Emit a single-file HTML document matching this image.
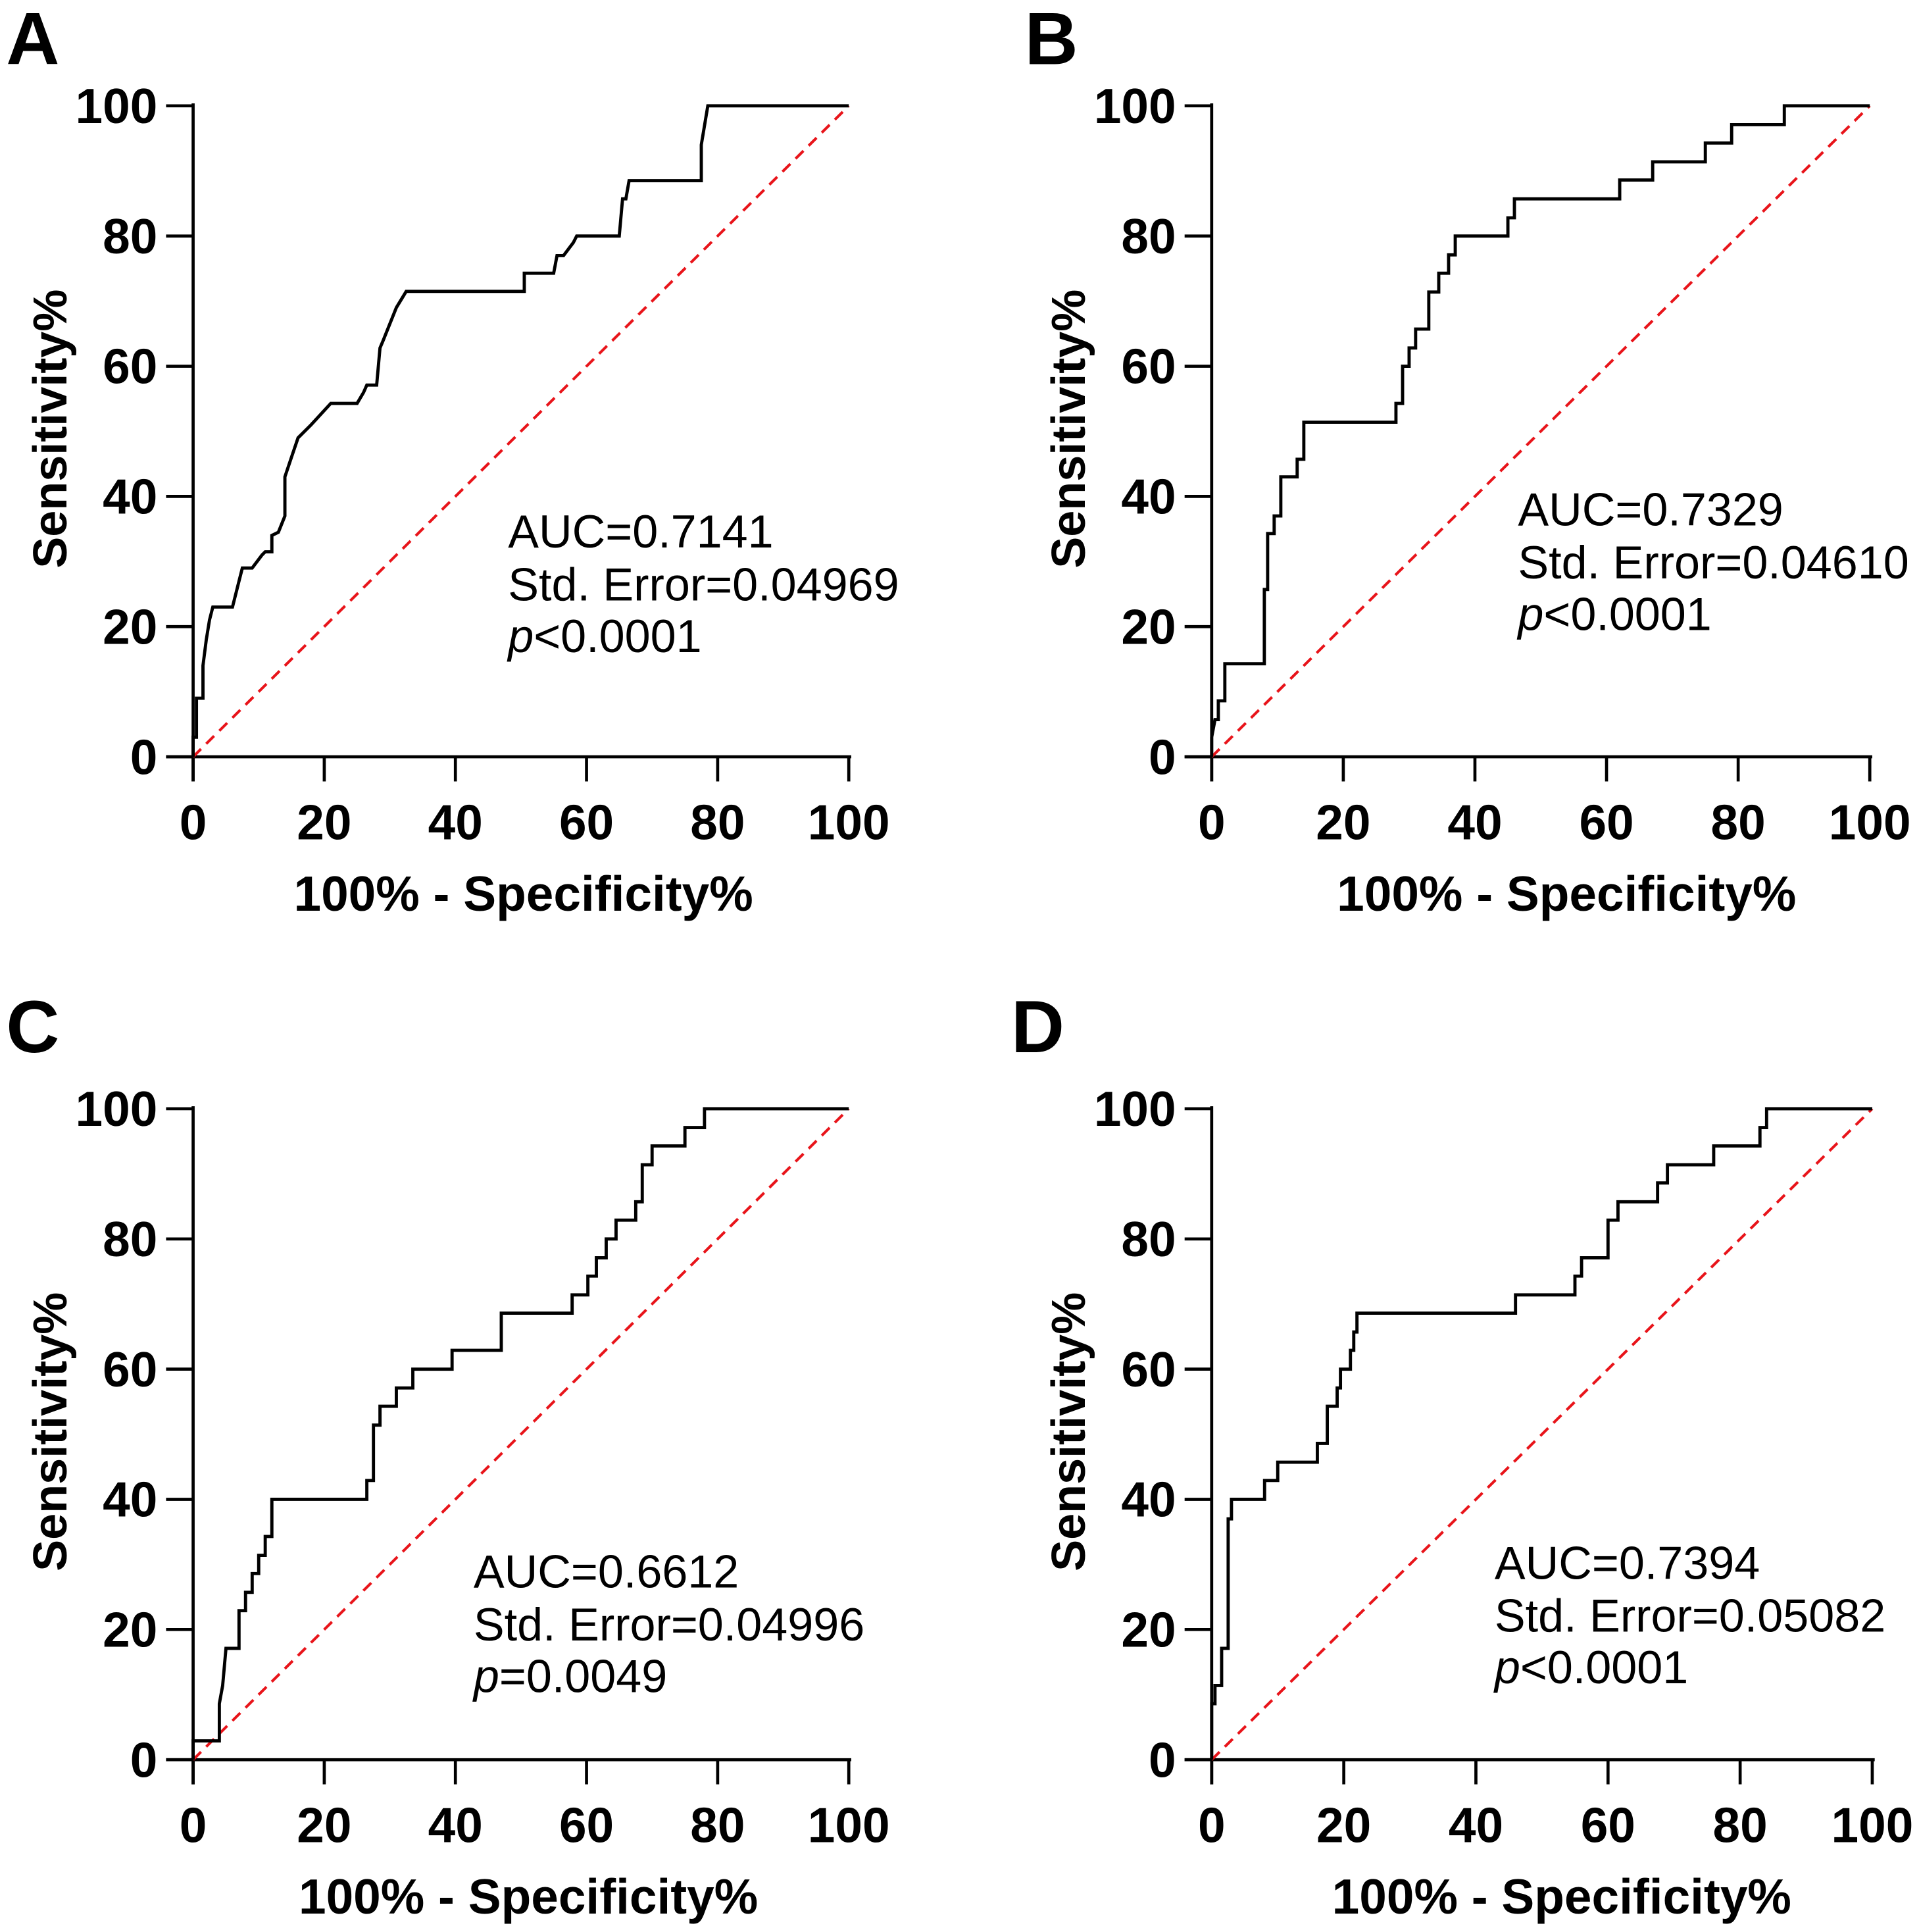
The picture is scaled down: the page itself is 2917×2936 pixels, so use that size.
<!DOCTYPE html>
<html><head><meta charset="utf-8"><style>
html,body{margin:0;padding:0;background:#fff;}
svg{display:block;}
text{font-family:"Liberation Sans",Arial,sans-serif;fill:#000;}
.tick{font-size:40px;font-weight:bold;}
.title{font-size:40px;font-weight:bold;}
.ytitle{font-size:38.5px;font-weight:bold;}
.ann{font-size:37.5px;}
.letter{font-size:60px;font-weight:bold;}
</style></head><body>
<svg id="fig" width="2917" height="2936" viewBox="0 0 1560 1570" preserveAspectRatio="none" xmlns="http://www.w3.org/2000/svg"></svg>
<script>
const tickValues = [0, 20, 40, 60, 80, 100];
const aFpr = [0,0,0.5,0.5,1.5,1.5,2,2.5,3,6,7,7.5,9,10.5,11,12,12,13,14,14,15,16,18,21,25,26,26.5,28,28.5,29,31,32.5,50.5,50.5,55,55.5,56.5,58,58.5,65,65.5,66,66.5,77.5,77.5,78.5,100];
const aTpr = [0,3,3,9,9,14,18,21,23,23,27,29,29,31,31.5,31.5,34,34.5,37,43,46,49,51,54.3,54.3,56,57.1,57.1,62.8,64,69,71.5,71.5,74.3,74.3,77,77,79,80,80,85.7,85.7,88.5,88.5,94,100,100];
const bFpr = [0,0,0.5,1,1,2,2,8,8,8.5,8.5,9.5,9.5,10.5,10.5,13,13,14,14,28,28,29,29,30,30,31,31,33,33,34.5,34.5,36,36,37,37,45,45,46,46,62,62,67,67,75,75,79,79,87,87,100];
const bTpr = [0,3,5.7,5.7,8.6,8.6,14.3,14.3,25.7,25.7,34.3,34.3,37,37,43,43,45.7,45.7,51.4,51.4,54.3,54.3,60,60,62.8,62.8,65.7,65.7,71.4,71.4,74.3,74.3,77.1,77.1,80,80,82.8,82.8,85.7,85.7,88.6,88.6,91.4,91.4,94.3,94.3,97.1,97.1,100,100];
const cFpr = [0,0,4,4,4.5,5,7,7,8,8,9,9,10,10,11,11,12,12,26.5,26.5,27.5,27.5,28.5,28.5,31,31,33.5,33.5,39.5,39.5,47,47,57.8,57.8,60.2,60.2,61.5,61.5,63,63,64.5,64.5,67.5,67.5,68.5,68.5,70,70,75,75,78,78,100];
const cTpr = [0,2.9,2.9,8.6,11.4,17.1,17.1,22.9,22.9,25.7,25.7,28.6,28.6,31.4,31.4,34.3,34.3,40,40,42.9,42.9,51.4,51.4,54.3,54.3,57.1,57.1,60,60,62.9,62.9,68.6,68.6,71.4,71.4,74.3,74.3,77.1,77.1,80,80,82.9,82.9,85.7,85.7,91.4,91.4,94.3,94.3,97.1,97.1,100,100];
const dFpr = [0,0,0.5,0.5,1.5,1.5,2.5,2.5,3,3,8,8,10,10,16,16,17.5,17.5,19,19,19.5,19.5,21,21,21.5,21.5,22,22,46,46,55,55,56,56,60,60,61.5,61.5,67.5,67.5,69,69,76,76,83,83,84,84,100];
const dTpr = [0,8.6,8.6,11.4,11.4,17.1,17.1,37,37,40,40,42.9,42.9,45.7,45.7,48.6,48.6,54.3,54.3,57.1,57.1,60,60,62.9,62.9,65.7,65.7,68.6,68.6,71.4,71.4,74.3,74.3,77.1,77.1,82.9,82.9,85.7,85.7,88.6,88.6,91.4,91.4,94.3,94.3,97.1,97.1,100,100];
const annA = ["AUC=0.7141", "Std. Error=0.04969", "<0.0001"];
const annB = ["AUC=0.7329", "Std. Error=0.04610", "<0.0001"];
const annC = ["AUC=0.6612", "Std. Error=0.04996", "=0.0049"];
const annD = ["AUC=0.7394", "Std. Error=0.05082", "<0.0001"];

const NS = "http://www.w3.org/2000/svg";
const svg = document.getElementById('fig');
function mk(tag, attrs, parent, txt){
  const e = document.createElementNS(NS, tag);
  for (const k in attrs) e.setAttribute(k, attrs[k]);
  if (txt !== undefined) e.textContent = txt;
  parent.appendChild(e);
  return e;
}
const panels = [
  {id:'a', L:'A', lx:5, ly:52, x0:157, x1:690, y0:615, y1:86, fx:aFpr, fy:aTpr, ann:annA, ax:413, ay:445, tdx:2},
  {id:'b', L:'B', lx:833, ly:52, x0:985, x1:1520, y0:615, y1:86, fx:bFpr, fy:bTpr, ann:annB, ax:1234, ay:427, tdx:21},
  {id:'c', L:'C', lx:5, ly:855, x0:157, x1:690, y0:1430, y1:901, fx:cFpr, fy:cTpr, ann:annC, ax:385, ay:1290, tdx:6},
  {id:'d', L:'D', lx:822, ly:855, x0:985, x1:1522, y0:1430, y1:901, fx:dFpr, fy:dTpr, ann:annD, ax:1215, ay:1283, tdx:16}
];
panels.forEach(p => {
  const g = mk('g', {}, svg);
  
  
  const sx = v => p.x0 + (p.x1 - p.x0) * v / 100;
  const sy = v => p.y0 + (p.y1 - p.y0) * v / 100;
  const lt = mk('text', {x:p.lx, y:p.ly, class:'letter'}, g, p.L);
  
  
  const ya = mk('line', {x1:p.x0, y1:p.y1 - 2, x2:p.x0, y2:p.y0 + 20, stroke:'#000', 'stroke-width':2.5}, g);
  
  
  const xa = mk('line', {x1:p.x0 - 22, y1:p.y0, x2:p.x1 + 2, y2:p.y0, stroke:'#000', 'stroke-width':2.5}, g);
  
  
  tickValues.forEach(v => {
    mk('line', {x1:p.x0 - 22, y1:sy(v), x2:p.x0, y2:sy(v), stroke:'#000', 'stroke-width':2.5}, g);
    const yl = mk('text', {x:p.x0 - 29, y:sy(v) + 14, 'text-anchor':'end', class:'tick'}, g, v);
    
    
    mk('line', {x1:sx(v), y1:p.y0, x2:sx(v), y2:p.y0 + 20, stroke:'#000', 'stroke-width':2.5}, g);
    const xl = mk('text', {x:sx(v), y:p.y0 + 67, 'text-anchor':'middle', class:'tick'}, g, v);
    
    
  });
  const xt = mk('text', {x:(p.x0 + p.x1) / 2 + p.tdx, y:p.y0 + 125, 'text-anchor':'middle', class:'title'}, g, '100% - Specificity%');
  
  
  const ytx = p.x0 - 103, yty = (p.y0 + p.y1) / 2 - 2;
  const yt = mk('text', {x:ytx, y:yty, 'text-anchor':'middle', class:'ytitle', transform:'rotate(-90 ' + ytx + ' ' + yty + ')'}, g, 'Sensitivity%');
  
  
  const ref = mk('line', {x1:sx(0), y1:sy(0), x2:sx(100), y2:sy(100), stroke:'#e8141a', 'stroke-width':2.2, 'stroke-dasharray':'9 6'}, g);
  
  
  const pts = p.fx.map((v, i) => sx(v).toFixed(1) + ',' + sy(p.fy[i]).toFixed(1)).join(' ');
  const roc = mk('polyline', {points:pts, fill:'none', stroke:'#000', 'stroke-width':2.6, 'stroke-linejoin':'miter'}, g);
  
  
  const an = mk('g', {}, g);
  
  
  mk('text', {x:p.ax, y:p.ay, class:'ann'}, an, p.ann[0]);
  mk('text', {x:p.ax, y:p.ay + 43, class:'ann'}, an, p.ann[1]);
  const t3 = mk('text', {x:p.ax, y:p.ay + 85, class:'ann'}, an);
  mk('tspan', {'font-style':'italic'}, t3, 'p');
  mk('tspan', {}, t3, p.ann[2]);
});
</script>
</body></html>
